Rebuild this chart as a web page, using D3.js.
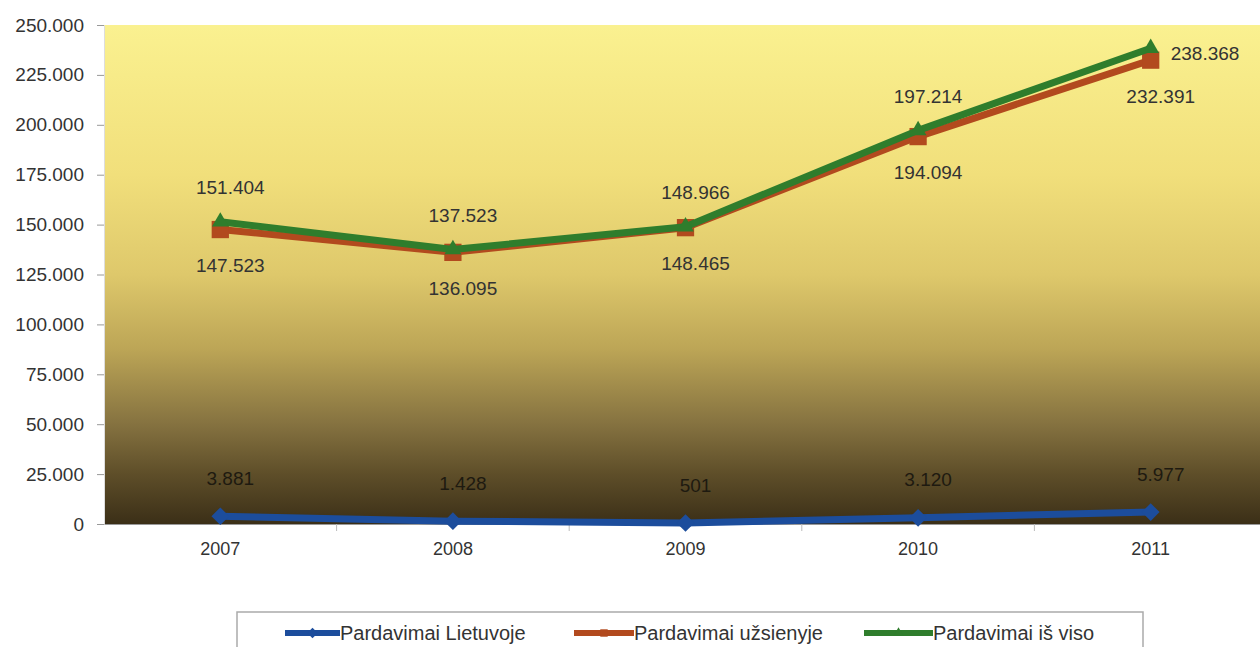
<!DOCTYPE html>
<html>
<head>
<meta charset="utf-8">
<script src="https://cdn.jsdelivr.net/npm/d3@7"></script>
<style>
  body { margin: 0; background: #fff; }
  svg text { font-family: "Liberation Sans", Arial, sans-serif; }
</style>
</head>
<body>
<svg id="drawing_region"></svg>
<script>
const years = ['2007', '2008', '2009', '2010', '2011'];
const lietuvoje = [3881, 1428, 501, 3120, 5977];
const uzsienyje = [147523, 136095, 148465, 194094, 232391];
const isViso = [151404, 137523, 148966, 197214, 238368];
const yTicks = [0, 25000, 50000, 75000, 100000, 125000, 150000, 175000, 200000, 225000, 250000];
const seriesNames = ['Pardavimai Lietuvoje', 'Pardavimai užsienyje', 'Pardavimai iš viso'];

const config = {
  width: 1260,
  height: 647,
  margin: {top: 25, right: -7, bottom: 123, left: 104}
};

const lt = d3.formatLocale({decimal: ',', thousands: '.', grouping: [3], currency: ['', '']});
const fmt = lt.format(',d');

const svg = d3.select('#drawing_region')
    .attr('width', config.width)
    .attr('height', config.height);

const inner_width = config.width - config.margin.left - config.margin.right;
const inner_height = config.height - config.margin.top - config.margin.bottom;

// background gradient of the plot area
const grad = svg.append('defs').append('linearGradient')
    .attr('id', 'bg')
    .attr('x1', 0).attr('y1', 0).attr('x2', 0).attr('y2', 1);
[[0, '#faf190'], [0.3, '#f1df7b'], [0.5, '#dec86b'], [0.65, '#bca556'],
 [0.8, '#857240'], [0.9, '#5e4e29'], [1, '#3b2f17']].forEach(s => {
  grad.append('stop').attr('offset', s[0]).attr('stop-color', s[1]);
});

const chart = svg.append('g')
    .attr('transform', `translate(${config.margin.left}, ${config.margin.top})`);

chart.append('rect')
    .attr('width', inner_width)
    .attr('height', inner_height)
    .attr('fill', 'url(#bg)');

const xscale = d3.scaleBand()
    .domain(years)
    .range([0, inner_width]);

const yscale = d3.scaleLinear()
    .domain([0, 250000])
    .range([inner_height, 0]);

const cx = d => xscale(d) + xscale.bandwidth() / 2;

// axes
const yaxis = d3.axisLeft(yscale)
    .tickValues(yTicks)
    .tickFormat(fmt)
    .tickSize(7)
    .tickPadding(13)
    .tickSizeOuter(0);

const yaxis_group = chart.append('g').call(yaxis);
yaxis_group.select('.domain').attr('stroke', '#ddd');
yaxis_group.selectAll('.tick line').attr('stroke', '#999');
yaxis_group.selectAll('text')
    .attr('font-size', 19)
    .attr('fill', '#333')
    .attr('font-family', '"Liberation Sans", Arial, sans-serif');

const xaxis = d3.axisBottom(xscale)
    .tickSize(0)
    .tickPadding(18)
    .tickSizeOuter(0);

const xaxis_group = chart.append('g')
    .attr('transform', `translate(0, ${inner_height})`)
    .call(xaxis);
xaxis_group.select('.domain').attr('stroke', '#999');
xaxis_group.selectAll('text')
    .attr('font-size', 18)
    .attr('fill', '#333')
    .attr('font-family', '"Liberation Sans", Arial, sans-serif');

// small tick marks between categories
chart.append('g')
    .selectAll('line')
    .data(years.slice(1))
    .join('line')
    .attr('x1', d => xscale(d)).attr('x2', d => xscale(d))
    .attr('y1', inner_height).attr('y2', inner_height + 7)
    .attr('stroke', '#bbb');

const series = [
  {name: seriesNames[0], values: lietuvoje, color: '#1c4d9c', marker: 'diamond', labelDy: -38},
  {name: seriesNames[1], values: uzsienyje, color: '#b24a1e', marker: 'square', labelDy: 36},
  {name: seriesNames[2], values: isViso, color: '#2f7d2c', marker: 'triangle', labelDy: -34}
];

const symbolType = {
  diamond: d3.symbolDiamond2,
  square: d3.symbolSquare2,
  triangle: d3.symbolTriangle2
};
const symbolSize = {diamond: 200, square: 380, triangle: 200};

const line = d3.line()
    .x((d, i) => cx(years[i]))
    .y(d => yscale(d));

series.forEach(s => {
  const g = chart.append('g');
  g.append('path')
      .datum(s.values)
      .attr('fill', 'none')
      .attr('stroke', s.color)
      .attr('stroke-width', 7)
      .attr('stroke-linejoin', 'round')
      .attr('d', line);

  g.selectAll('path.mk')
      .data(s.values)
      .join('path')
      .attr('class', 'mk')
      .attr('transform', (d, i) => `translate(${cx(years[i])}, ${yscale(d)})`)
      .attr('d', d3.symbol().type(symbolType[s.marker]).size(symbolSize[s.marker]))
      .attr('fill', s.color);
});

// data labels drawn on top
series.forEach((s, si) => {
  const last = i => si === 2 && i === years.length - 1;
  chart.append('g')
      .selectAll('text')
      .data(s.values)
      .join('text')
      .attr('x', (d, i) => last(i) ? cx(years[i]) + 20 : cx(years[i]) + 10)
      .attr('y', (d, i) => last(i) ? yscale(d) + 5 : yscale(d) + s.labelDy)
      .attr('dy', '0.35em')
      .attr('text-anchor', (d, i) => last(i) ? 'start' : 'middle')
      .attr('font-size', 19)
      .attr('fill', si === 0 ? '#1e1a10' : '#333')
      .text(d => fmt(d));
});

// legend
const legend = svg.append('g');
legend.append('rect')
    .attr('x', 237).attr('y', 612)
    .attr('width', 906).attr('height', 60)
    .attr('fill', '#fff')
    .attr('stroke', '#aaa')
    .attr('stroke-width', 1.5);

const legendX = [285, 574, 864];
series.forEach((s, i) => {
  const item = legend.append('g').attr('transform', `translate(${legendX[i]}, 633)`);
  const w = i === 2 ? 69 : i === 1 ? 60 : 55;
  item.append('line')
      .attr('x1', 0).attr('x2', w)
      .attr('stroke', s.color).attr('stroke-width', 6);
  item.append('path')
      .attr('transform', `translate(${w / 2}, 0)`)
      .attr('d', d3.symbol().type(symbolType[s.marker]).size(70))
      .attr('fill', s.color);
  item.append('text')
      .attr('x', w)
      .attr('dy', '0.35em')
      .attr('font-size', 20)
      .attr('fill', '#333')
      .text(s.name);
});
</script>
</body>
</html>
